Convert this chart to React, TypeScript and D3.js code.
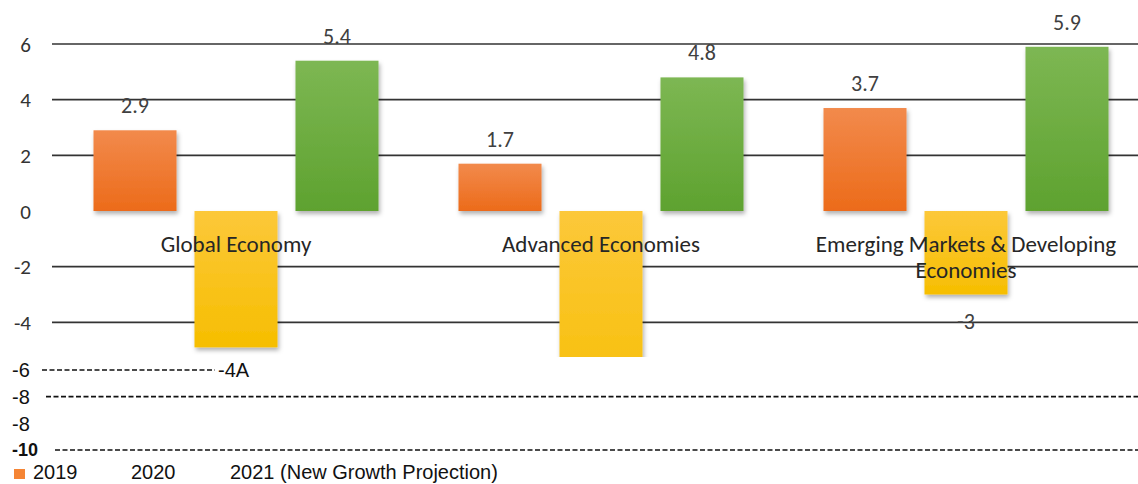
import React from "react";
import * as d3 from "d3";

const categories = ["Global Economy", "Advanced Economies", "Emerging Markets & Developing Economies"];
const categoryLines = [["Global Economy"], ["Advanced Economies"], ["Emerging Markets & Developing", "Economies"]];
const seriesNames = ["2019", "2020", "2021 (New Growth Projection)"];
const values2019 = [2.9, 1.7, 3.7];
const values2020 = [-4.9, -8.0, -3.0];
const values2021 = [5.4, 4.8, 5.9];
const upperTicks = [6, 4, 2, 0, -2, -4];
const lowerTickLabels = ["-6", "-8", "-8", "-10"];
const strayLabel = "-4A";

const W = 1138;
const H = 484;

export default function App() {
  const y = d3.scaleLinear().domain([0, 6]).range([211, 44]);
  const x0 = d3.scaleBand<string>().domain(categories).range([53.5, 1148.5]).padding(0);
  const x1 = d3.scaleBand<string>().domain(seriesNames).range([0, x0.bandwidth()]).paddingInner(0.178).paddingOuter(0.396);
  const lowerY = d3.scalePoint<number>().domain(lowerTickLabels.map((_, i) => i)).range([370, 450]);

  const series = [
    { name: seriesNames[0], values: values2019, grad: "gOrange" },
    { name: seriesNames[1], values: values2020, grad: "gYellow" },
    { name: seriesNames[2], values: values2021, grad: "gGreen" },
  ];

  const calibri = "Carlito, Calibri, Lato, 'Open Sans', sans-serif";
  const arial = "'Liberation Sans', Arial, sans-serif";

  return (
    <svg width={W} height={H} style={{ position: "absolute", left: 0, top: 0, background: "#fff" }}>
      <defs>
        <linearGradient id="gOrange" x1="0" y1="0" x2="0" y2="1">
          <stop offset="0" stopColor="#f28a4c" />
          <stop offset="1" stopColor="#ec6b1a" />
        </linearGradient>
        <linearGradient id="gYellow" x1="0" y1="0" x2="0" y2="1">
          <stop offset="0" stopColor="#fcc83a" />
          <stop offset="1" stopColor="#f6be00" />
        </linearGradient>
        <linearGradient id="gGreen" x1="0" y1="0" x2="0" y2="1">
          <stop offset="0" stopColor="#7db753" />
          <stop offset="1" stopColor="#5ea22f" />
        </linearGradient>
        <filter id="shadow" x="-10%" y="-10%" width="130%" height="130%">
          <feDropShadow dx="1.5" dy="3" stdDeviation="2" floodColor="#000" floodOpacity="0.3" />
        </filter>
        <clipPath id="upperClip">
          <rect x={0} y={0} width={W} height={357} />
        </clipPath>
      </defs>

      {/* upper gridlines */}
      {upperTicks.filter((t) => t !== 0).map((t) => (
        <line key={t} x1={52} x2={W} y1={y(t)} y2={y(t)} stroke="#333" strokeWidth={1.6} />
      ))}
      {/* upper tick labels */}
      {upperTicks.map((t) => (
        <text key={"l" + t} x={31} y={y(t)} dy="0.36em" textAnchor="end" fontFamily={calibri} fontSize={21} fill="#333">
          {t}
        </text>
      ))}

      {/* bars */}
      <g clipPath="url(#upperClip)">
        {series.map((s) =>
          s.values.map((v, i) => {
            const bx = (x0(categories[i]) as number) + (x1(s.name) as number);
            const top = y(Math.max(0, v));
            const bot = y(Math.min(0, v));
            return (
              <rect key={s.name + i} x={bx} y={top} width={x1.bandwidth()} height={bot - top} fill={`url(#${s.grad})`} filter="url(#shadow)" />
            );
          })
        )}
      </g>

      {/* value labels */}
      {series.map((s) =>
        s.values.map((v, i) => {
          const cx = (x0(categories[i]) as number) + (x1(s.name) as number) + x1.bandwidth() / 2;
          if (v > 0) {
            return (
              <text key={"v" + s.name + i} x={cx} y={y(v) - 25} dy="0.36em" textAnchor="middle" fontFamily={calibri} fontSize={22} fill="#404040">
                {v.toFixed(1)}
              </text>
            );
          }
          if (i === 2) {
            return (
              <text key={"v" + s.name + i} x={cx} y={y(v) + 27} dy="0.36em" textAnchor="middle" fontFamily={calibri} fontSize={22} fill="#404040">
                {String(v)}
              </text>
            );
          }
          return null;
        })
      )}

      {/* category labels */}
      {categories.map((c, i) => {
        const cx = (x0(c) as number) + x0.bandwidth() / 2;
        return (
          <text key={"c" + c} x={cx} y={252} textAnchor="middle" fontFamily={calibri} fontSize={23} fill="#262626">
            {categoryLines[i].map((ln, j) => (
              <tspan key={j} x={cx} dy={j === 0 ? 0 : 26}>{ln}</tspan>
            ))}
          </text>
        );
      })}

      {/* lower strip */}
      {lowerTickLabels.map((lb, i) => (
        <text key={"lw" + i} x={12} y={lowerY(i) as number} dy="0.36em" fontFamily={arial} fontSize={i === 3 ? 18 : 20} fontWeight={i === 3 ? "bold" : "normal"} fill="#111">
          {lb}
        </text>
      ))}
      <line x1={42} x2={215} y1={lowerY(0) as number} y2={lowerY(0) as number} stroke="#111" strokeWidth={1.3} strokeDasharray="5 2.5" />
      <text x={218} y={lowerY(0) as number} dy="0.36em" fontFamily={arial} fontSize={20} fill="#111">{strayLabel}</text>
      <line x1={46} x2={W} y1={lowerY(1) as number} y2={lowerY(1) as number} stroke="#111" strokeWidth={1.6} strokeDasharray="5 2.5" />
      <line x1={55} x2={W} y1={lowerY(3) as number} y2={lowerY(3) as number} stroke="#111" strokeWidth={1.6} strokeDasharray="5 2.5" />

      {/* legend */}
      <rect x={14} y={469} width={11} height={10} fill="#f58535" />
      {seriesNames.map((n, i) => (
        <text key={"lg" + n} x={[33, 131, 230][i]} y={479} fontFamily={arial} fontSize={20} fill="#111">
          {n}
        </text>
      ))}
    </svg>
  );
}
